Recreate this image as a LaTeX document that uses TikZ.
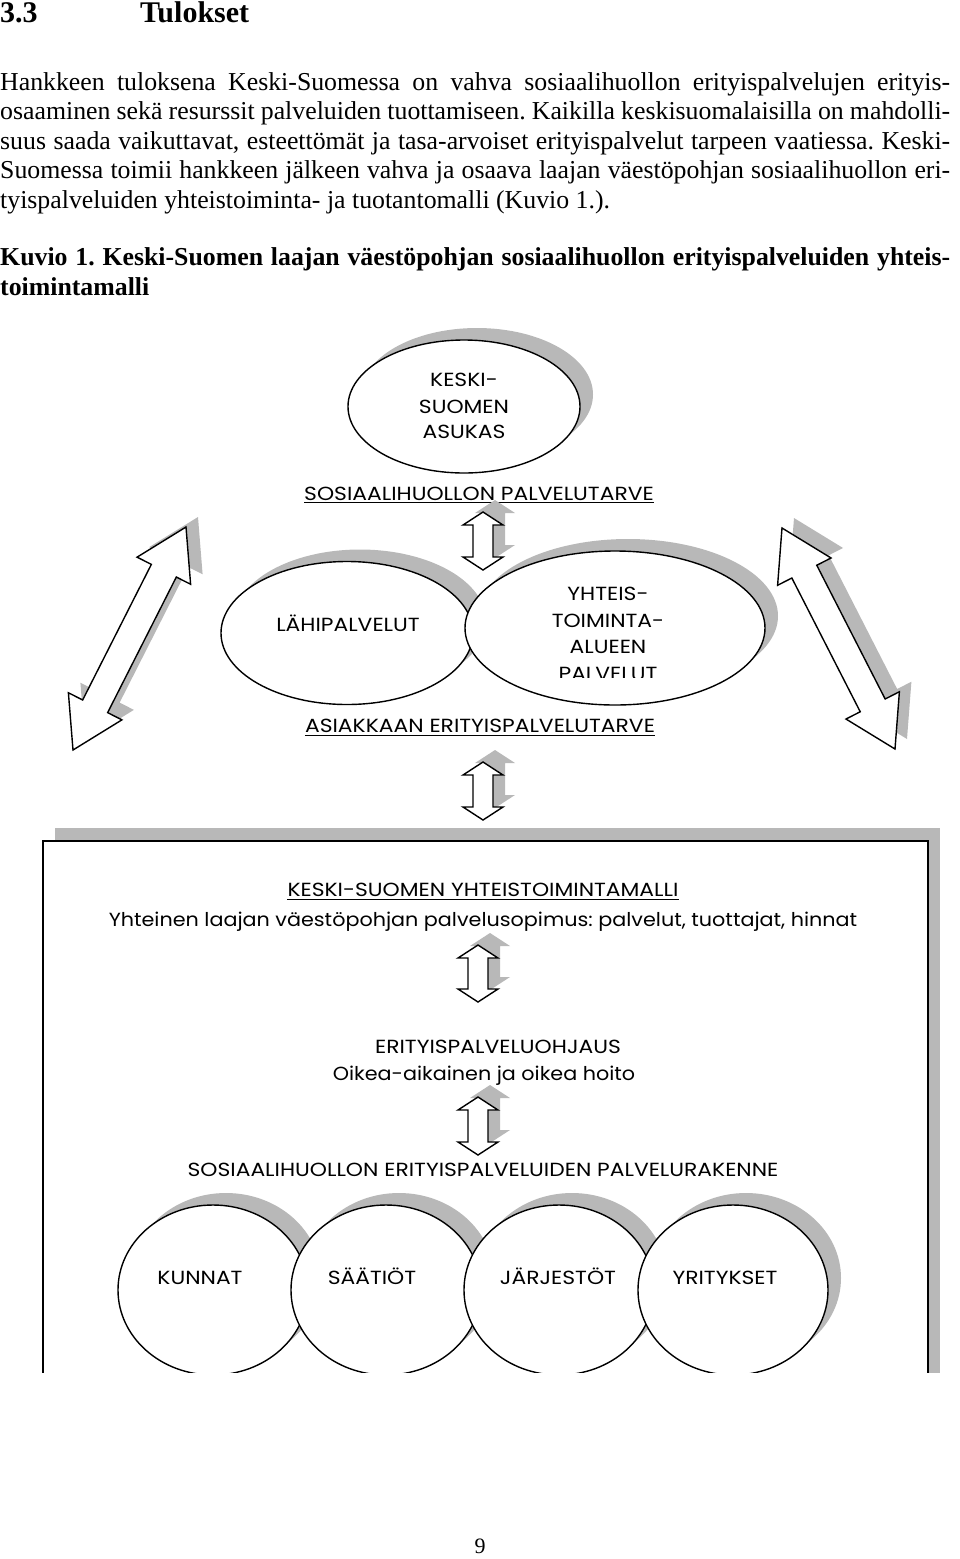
\documentclass[tikz,border=0pt]{standalone}
\usepackage{fontspec}
\setmainfont{Liberation Serif}
\newfontfamily\dgfont[FakeStretch=1.09]{Poppins}
\newfontfamily\dgcapsfont[FakeStretch=1.15]{Poppins}
\usetikzlibrary{calc,shapes.geometric}
\newcommand\DArr[6]{%
  \coordinate (da1) at (#1);
  \coordinate (da2) at (#2);
  \coordinate (dh1) at ($(da1)!#5!(da2)$);
  \coordinate (dh2) at ($(da2)!#5!(da1)$);
  \draw[#6] (da1) -- ($(dh1)!#4!90:(da2)$) -- ($(dh1)!#3!90:(da2)$)
    -- ($(dh2)!#3!-90:(da1)$) -- ($(dh2)!#4!-90:(da1)$) -- (da2)
    -- ($(dh2)!#4!90:(da1)$) -- ($(dh2)!#3!90:(da1)$)
    -- ($(dh1)!#3!-90:(da2)$) -- ($(dh1)!#4!-90:(da2)$) -- cycle;
}
\tikzset{
  shadowfill/.style={fill=black!28, draw=none},
  outl/.style={draw=black, line width=1.4pt, fill=white, line join=miter},
  dg/.style={font=\dgcapsfont\fontsize{19}{24}\selectfont, inner sep=0, anchor=base},
  dgl/.style={font=\dgfont\fontsize{19}{24}\selectfont, inner sep=0, anchor=base},
  bodyline/.style={anchor=base west, inner sep=0, font=\fontsize{25.8}{30}\selectfont},
  capline/.style={anchor=base west, inner sep=0, font=\fontsize{25.8}{30}\selectfont\bfseries},
  ell/.style={ellipse, inner sep=0},
  uline/.style={line width=1.1pt},
}
\begin{document}
\frenchspacing
\begin{tikzpicture}[x=1pt,y=-1pt]
\useasboundingbox (0,0) rectangle (960,1559);
% heading and text
\node[anchor=base west, inner sep=0, font=\fontsize{30}{36}\selectfont\bfseries] (hnum) at (0,22) {3.3};
\node[anchor=base west, inner sep=0, font=\fontsize{30}{36}\selectfont\bfseries] (htit) at (140,22) {Tulokset};
\node[bodyline] (p1) at (0,90) {\makebox[950pt][s]{Hankkeen tuloksena Keski-Suomessa on vahva sosiaalihuollon erityispalvelujen erityis-}};
\node[bodyline] (p2) at (0,119.5) {\makebox[950pt][s]{osaaminen sekä resurssit palveluiden tuottamiseen. Kaikilla keskisuomalaisilla on mahdolli-}};
\node[bodyline] (p3) at (0,149) {\makebox[950pt][s]{suus saada vaikuttavat, esteettömät ja tasa-arvoiset erityispalvelut tarpeen vaatiessa. Keski-}};
\node[bodyline] (p4) at (0,178.5) {\makebox[950pt][s]{Suomessa toimii hankkeen jälkeen vahva ja osaava laajan väestöpohjan sosiaalihuollon eri-}};
\node[bodyline] (p5) at (0,208) {tyispalveluiden yhteistoiminta- ja tuotantomalli (Kuvio 1.).};
\node[capline] (k1) at (0,265) {\makebox[950pt][s]{Kuvio 1. Keski-Suomen laajan väestöpohjan sosiaalihuollon erityispalveluiden yhteis-}};
\node[capline] (k2) at (0,295) {toimintamalli};
% page number
\node[anchor=base, inner sep=0, font=\fontsize{22}{26}\selectfont] (pg) at (480,1553) {9};

\begin{scope}
\clip (0,300) rectangle (960,1372);
% top ellipse
\node[ell, shadowfill, minimum width=232pt, minimum height=133pt] (asukasS) at (477,394.5) {};
\node[ell, outl, minimum width=232pt, minimum height=133pt] (asukas) at (464,406.5) {};
\node[dg] (as1) at (464,386.6) {KESKI-};
\node[dg] (as2) at (464,413.6) {SUOMEN};
\node[dg] (as3) at (464,438.6) {ASUKAS};
\node[dg] (tarve) at (479,500) {SOSIAALIHUOLLON PALVELUTARVE};
\draw[uline] ([yshift=-2.5pt]tarve.south west) -- ([yshift=-2.5pt]tarve.south east);
% arrow 1
\coordinate (v1a) at (483,512); \coordinate (v1b) at (483,570);
\DArr{$(v1a)+(12,-12)$}{$(v1b)+(12,-12)$}{10pt}{20pt}{13pt}{shadowfill}
\DArr{v1a}{v1b}{10pt}{20pt}{13pt}{outl}
% diagonal arrows
\coordinate (dLa) at (186,527); \coordinate (dLb) at (73,750);
\coordinate (dRa) at (782,528); \coordinate (dRb) at (895,749);
\DArr{$(dLa)+(12,-10)$}{$(dLb)+(12,-10)$}{14pt}{30pt}{49pt}{shadowfill}
\DArr{$(dRa)+(12,-10)$}{$(dRb)+(12,-10)$}{14pt}{30pt}{49pt}{shadowfill}
\DArr{dLa}{dLb}{14pt}{30pt}{49pt}{outl}
\DArr{dRa}{dRb}{14pt}{30pt}{49pt}{outl}
% middle ellipses
\node[ell, shadowfill, minimum width=252pt, minimum height=143pt] (lahiS) at (360,621) {};
\node[ell, shadowfill, minimum width=300pt, minimum height=154pt] (yhtS) at (628,616) {};
\node[ell, outl, minimum width=252pt, minimum height=143pt] (lahi) at (347,633) {};
\node[ell, outl, minimum width=300pt, minimum height=154pt] (yht) at (615,628) {};
\node[dg] (lahiT) at (348,631) {LÄHIPALVELUT};
\begin{scope}
\clip (460,560) rectangle (770,677);
\node[dg] (y1) at (608,600) {YHTEIS-};
\node[dg] (y2) at (608,627) {TOIMINTA-};
\node[dg] (y3) at (608,653) {ALUEEN};
\node[dg] (y4) at (608,680) {PALVELUT};
\end{scope}
\node[dg] (asiak) at (480,732.5) {ASIAKKAAN ERITYISPALVELUTARVE};
\draw[uline] ([yshift=-2.5pt]asiak.south west) -- ([yshift=-2.5pt]asiak.south east);
% arrow 2
\coordinate (v2a) at (483,762); \coordinate (v2b) at (483,820);
\DArr{$(v2a)+(12,-12)$}{$(v2b)+(12,-12)$}{10pt}{20pt}{13pt}{shadowfill}
\DArr{v2a}{v2b}{10pt}{20pt}{13pt}{outl}
% box
\node[anchor=north west, shadowfill, minimum width=885pt, minimum height=600pt, inner sep=0] (boxS) at (55,828) {};
\node[anchor=north west, draw=black, line width=2.2pt, fill=white, minimum width=885pt, minimum height=600pt, inner sep=0] (box) at (42,840) {};
\node[dg] (malli) at (483,896.5) {KESKI-SUOMEN YHTEISTOIMINTAMALLI};
\draw[uline] ([yshift=-2.5pt]malli.south west) -- ([yshift=-2.5pt]malli.south east);
\node[dgl] (sopimus) at (483,926) {Yhteinen laajan väestöpohjan palvelusopimus: palvelut, tuottajat, hinnat};
\coordinate (v3a) at (478,945); \coordinate (v3b) at (478,1002);
\DArr{$(v3a)+(12,-12)$}{$(v3b)+(12,-12)$}{10pt}{20pt}{13pt}{shadowfill}
\DArr{v3a}{v3b}{10pt}{20pt}{13pt}{outl}
\node[dg] (ohjaus) at (498,1053.5) {ERITYISPALVELUOHJAUS};
\node[dgl] (hoito) at (484,1080) {Oikea-aikainen ja oikea hoito};
\coordinate (v4a) at (478,1097); \coordinate (v4b) at (478,1155);
\DArr{$(v4a)+(12,-12)$}{$(v4b)+(12,-12)$}{10pt}{20pt}{13pt}{shadowfill}
\DArr{v4a}{v4b}{10pt}{20pt}{13pt}{outl}
\node[dg] (rakenne) at (483,1176.5) {SOSIAALIHUOLLON ERITYISPALVELUIDEN PALVELURAKENNE};
% circles
\foreach \cx/\nm in {213/c1,386/c2,559/c3,733/c4}
  \node[ell, shadowfill, minimum width=190pt, minimum height=170pt] (\nm S) at (\cx+13,1278) {};
\foreach \cx/\nm in {213/c1,386/c2,559/c3,733/c4}
  \node[ell, outl, minimum width=190pt, minimum height=170pt] (\nm) at (\cx,1290) {};
\node[dg] (kunnat) at (200,1284) {KUNNAT};
\node[dg] (saatiot) at (372,1284) {SÄÄTIÖT};
\node[dg] (jarjestot) at (558,1284) {JÄRJESTÖT};
\node[dg] (yritykset) at (725,1284) {YRITYKSET};
\end{scope}
\end{tikzpicture}
\end{document}
